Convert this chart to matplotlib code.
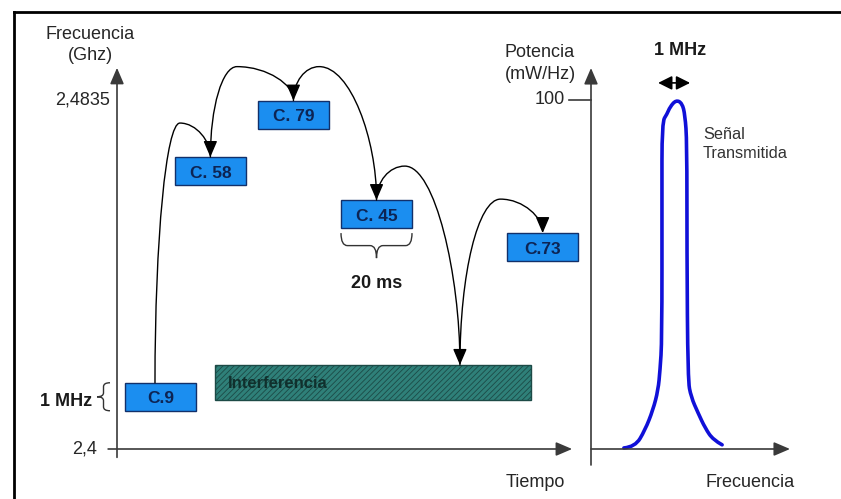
import numpy as np
import matplotlib
matplotlib.use("Agg")
import matplotlib.pyplot as plt
from matplotlib.patches import Rectangle, FancyArrowPatch, PathPatch
from matplotlib.path import Path
from matplotlib.lines import Line2D

plt.rcParams['font.family'] = ['Liberation Sans', 'DejaVu Sans']
plt.rcParams['hatch.linewidth'] = 0.6

# saltos de frecuencia (diagrama esquematico)
canales = ["C.9", "C. 58", "C. 79", "C. 45", "C.73"]
t_inicio = [2.3, 16.3, 39.7, 63.1, 109.9]          # ms
f_canal = [2.4125, 2.4665, 2.4800, 2.4562, 2.4483]  # GHz
duracion = 20.0      # ms por salto
alto_canal = 0.0067  # GHz (1 MHz, esquematico)

interf_t = [27.6, 116.6]       # ms
interf_f = [2.4117, 2.4201]    # GHz
t_choque = 96.6                # ms, salto que cae sobre la interferencia

# espectro de la senal transmitida (MHz respecto al centro, mW/Hz)
f_esp = [-1.66, -1.31, -1.00, -0.75, -0.59, -0.53, -0.47, -0.47, -0.47, -0.31, -0.22,
         -0.03, 0.16, 0.25, 0.31, 0.31, 0.34, 0.44, 0.66, 0.88, 1.13, 1.41]
p_esp = [0.3, 0.6, 5.4, 11.2, 16.9, 22.6, 31.2, 71.3, 93.7, 96.0, 98.0,
         100, 99.1, 95.7, 88.0, 57.0, 19.8, 14.9, 10.3, 6.0, 2.6, 1.2]

txt = '#262626'
eje = '#3a3a3a'

fig = plt.figure(figsize=(8.41, 4.99), dpi=100)

# marco
fig.add_artist(Line2D([14/841, 1], [1-12/499, 1-12/499], transform=fig.transFigure, color='black', lw=2))
fig.add_artist(Line2D([14/841, 14/841], [0, 1-12/499], transform=fig.transFigure, color='black', lw=2))

# ---- panel izquierdo: frecuencia vs tiempo ----
px_ms = 3.55
px_ghz = 349/0.0835
ax = fig.add_axes([117/841, 50/499, 473/841, 389/499])
ax.set_xlim(0, 473/px_ms)
ax.set_ylim(2.4, 2.4 + 389/px_ghz)
ax.axis('off')

def flecha(ax, a, b, lw=1.2, col=eje):
    ax.annotate('', xy=b, xytext=a, annotation_clip=False,
                arrowprops=dict(arrowstyle='-|>,head_length=0.7,head_width=0.3',
                                color=col, lw=lw, shrinkA=0, shrinkB=0, mutation_scale=14))

flecha(ax, (0, 2.398), (0, 2.4912))
flecha(ax, (-2.5, 2.4), (128.2, 2.4))
ax.text(-1.9, 2.4835, '2,4835', ha='right', va='center', fontsize=13, color=txt)
ax.text(-5.6, 2.4, '2,4', ha='right', va='center', fontsize=13, color=txt)
ax.text(-7.6, 2.4967, 'Frecuencia\n(Ghz)', ha='center', va='center', fontsize=13, color=txt, linespacing=1.3)
ax.text(117.7, 2.3919, 'Tiempo', ha='center', va='center', fontsize=13, color=txt)

# cajas de canal
for nom, t0, fc in zip(canales, t_inicio, f_canal):
    ax.add_patch(Rectangle((t0, fc - alto_canal/2), duracion, alto_canal, facecolor='#1b8ef0',
                           edgecolor='#12306a', lw=1, clip_on=False, zorder=3))
    ax.text(t0 + duracion/2, fc - 2/px_ghz, nom, ha='center', va='center', fontsize=12.5,
            fontweight='bold', color='#0d2454', zorder=4)

# interferencia
ax.add_patch(Rectangle((interf_t[0], interf_f[0]), interf_t[1]-interf_t[0], interf_f[1]-interf_f[0],
                       facecolor='#2f8079', edgecolor='#1c4a46', hatch='//////', lw=1,
                       clip_on=False, zorder=3))
ax.text(interf_t[0] + 3.6, (interf_f[0]+interf_f[1])/2 - 1/px_ghz, 'Interferencia', ha='left', va='center',
        fontsize=12, fontweight='bold', color='#10302d', zorder=4)

# saltos: dos cuartos de elipse que se unen en la cima
cima_frac = [0.45, 0.32, 0.31, 0.34, 0.49]

def salto(ax, p0, p3, frac, subida=34/px_ghz, k=0.5523):
    (x0, y0), (x3, y3) = p0, p3
    ya = max(y0, y3) + subida
    xa = x0 + frac*(x3 - x0)
    v = [p0, (x0, y0 + k*(ya - y0)), (xa - k*(xa - x0), ya), (xa, ya),
         (xa + k*(x3 - xa), ya), (x3, ya - k*(ya - y3)), p3]
    c = [Path.MOVETO] + [Path.CURVE4]*6
    ax.add_patch(FancyArrowPatch(path=Path(v, c), arrowstyle='-|>,head_length=0.7,head_width=0.3',
                                 mutation_scale=14, color='black', lw=1, clip_on=False, zorder=5))

puntos = [(t0 + duracion/2, fc + alto_canal/2) for t0, fc in zip(t_inicio, f_canal)]
ruta = puntos[:4] + [(t_choque, interf_f[1])] + puntos[4:]
ruta[0] = (ruta[0][0] - 1.6, ruta[0][1])
for a, b, fr in zip(ruta[:-1], ruta[1:], cima_frac):
    salto(ax, a, b, fr)

# llaves
def llave_h(ax, x0, x1, y, alto):
    xm, h, q = (x0+x1)/2, alto/2, (x1-x0)*0.09
    v = [(x0, y), (x0, y-h), (x0+q, y-h), (xm-q, y-h), (xm, y-h), (xm, y-alto),
         (xm, y-h), (xm+q, y-h), (x1-q, y-h), (x1, y-h), (x1, y)]
    c = [Path.MOVETO, Path.CURVE3, Path.CURVE3, Path.LINETO, Path.CURVE3, Path.CURVE3,
         Path.CURVE3, Path.CURVE3, Path.LINETO, Path.CURVE3, Path.CURVE3]
    ax.add_patch(PathPatch(Path(v, c), fill=False, color='#333333', lw=1, clip_on=False))

def llave_v(ax, x, y0, y1, ancho):
    ym, h, q = (y0+y1)/2, ancho/2, (y1-y0)*0.14
    v = [(x, y0), (x-h, y0), (x-h, y0+q), (x-h, ym-q), (x-h, ym), (x-ancho, ym),
         (x-h, ym), (x-h, ym+q), (x-h, y1-q), (x-h, y1), (x, y1)]
    c = [Path.MOVETO, Path.CURVE3, Path.CURVE3, Path.LINETO, Path.CURVE3, Path.CURVE3,
         Path.CURVE3, Path.CURVE3, Path.LINETO, Path.CURVE3, Path.CURVE3]
    ax.add_patch(PathPatch(Path(v, c), fill=False, color='#333333', lw=1, clip_on=False))

k = 3
llave_h(ax, t_inicio[k], t_inicio[k] + duracion, f_canal[k] - alto_canal/2 - 5/px_ghz, 25/px_ghz)
ax.text(t_inicio[k] + duracion/2, 2.4 + 166/px_ghz, '20 ms', ha='center', va='center',
        fontsize=13, fontweight='bold', color='#1a1a1a')

llave_v(ax, -1.97, f_canal[0] - alto_canal/2, f_canal[0] + alto_canal/2, 13/px_ms)
ax.text(-7.0, f_canal[0] - 0.0012, '1 MHz', ha='right', va='center', fontsize=13,
        fontweight='bold', color='#1a1a1a')

# ---- panel derecho: potencia vs frecuencia ----
px_mhz = 32.0
px_p = 3.49
ax2 = fig.add_axes([591/841, 50/499, 199/841, 349/499])
ax2.set_xlim(-86/px_mhz, 113/px_mhz)
ax2.set_ylim(0, 100)
ax2.axis('off')

x0 = -86/px_mhz
flecha(ax2, (x0, -16/px_p), (x0, 381/px_p))
flecha(ax2, (x0, 0), (113/px_mhz, 0))
ax2.plot([x0 - 22/px_mhz, x0], [100, 100], color=eje, lw=1.2, clip_on=False)
ax2.text(x0 - 26/px_mhz, 100, '100', ha='right', va='center', fontsize=13, color=txt)
ax2.text(-4.28, 110.5, 'Potencia\n(mW/Hz)', ha='center', va='center', fontsize=13, color=txt, linespacing=1.4)
ax2.text(2.28, -9.7, 'Frecuencia', ha='center', va='center', fontsize=13, color=txt)

# curva suavizada (b-spline cuadratica por los puntos medios)
pts = list(zip(f_esp, p_esp))
v = [pts[0]]
c = [Path.MOVETO]
for i in range(1, len(pts) - 1):
    mid = ((pts[i][0] + pts[i+1][0])/2, (pts[i][1] + pts[i+1][1])/2)
    v += [pts[i], mid if i < len(pts) - 2 else pts[i+1]]
    c += [Path.CURVE3, Path.CURVE3]
ax2.add_patch(PathPatch(Path(v, c), fill=False, edgecolor='#1010d8', lw=2.6, clip_on=False,
                        capstyle='round', joinstyle='round'))

ax2.annotate('', xy=(0.41, 104.9), xytext=(-0.59, 104.9), annotation_clip=False,
             arrowprops=dict(arrowstyle='<|-|>,head_length=0.6,head_width=0.3', color='black',
                             lw=1.2, shrinkA=0, shrinkB=0, mutation_scale=14))
ax2.text(0.09, 114.3, '1 MHz', ha='center', va='center', fontsize=13, fontweight='bold', color='#1a1a1a')
ax2.text(0.81, 87.4, 'Señal\nTransmitida', ha='left', va='center', fontsize=11.7, color='#333333',
         linespacing=1.4)

fig.savefig('out.png', dpi=100)
